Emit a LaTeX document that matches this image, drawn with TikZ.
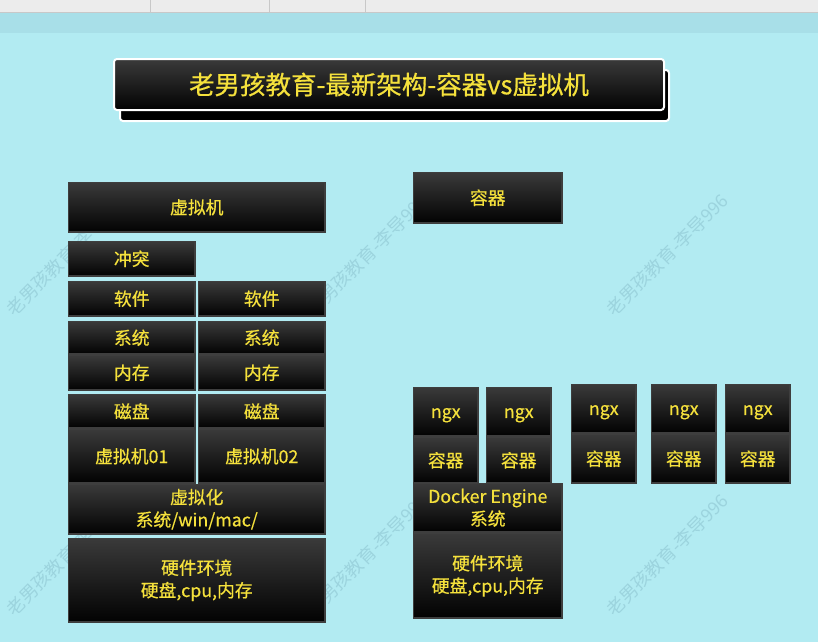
\documentclass[tikz,border=0pt]{standalone}
\usepackage{fontspec}
\setmainfont{Noto Sans CJK SC}
\newfontfamily\boxfont{Noto Sans CJK SC}[FakeBold=0.6]
\definecolor{bg}{RGB}{178,235,242}
\definecolor{band}{RGB}{168,223,232}
\definecolor{strip}{RGB}{236,236,236}
\definecolor{stripline}{RGB}{200,200,200}
\definecolor{boxtop}{RGB}{58,58,58}
\definecolor{boxbot}{RGB}{2,2,2}
\definecolor{boxline}{RGB}{62,62,62}
\definecolor{ylw}{RGB}{245,225,60}
\definecolor{wmc}{RGB}{156,212,222}
\newcommand\blkbox[6]{\node[blk, anchor=north west, minimum width={#4pt-#2pt-1.5pt}, minimum height={#5pt-#3pt-1.5pt}] (#1) at (#2+0.75,#3+0.75) {#6};}
\newcommand\ngxtext{\raisebox{-3.5pt}[\height][\depth]{ngx}}
\begin{document}
\begin{tikzpicture}[x=1pt,y=-1pt,
  blk/.style={draw=boxline, line width=1.5pt, top color=boxtop, bottom color=boxbot,
    text=ylw, inner sep=0pt, align=center, font=\boxfont\fontsize{17.8}{22.5}\selectfont},
  wm/.style={text=wmc, font=\fontsize{18}{18}\selectfont, rotate=45, inner sep=0pt},
  titlebox/.style={draw=white, line width=2pt, rounded corners=3pt}]
\useasboundingbox (0,0) rectangle (818,642);
% background
\fill[bg] (0,0) rectangle (818,642);
\fill[band] (0,13) rectangle (818,33);
\fill[strip] (0,0) rectangle (818,12);
\draw[stripline, line width=1.5pt] (0,12.5) -- (818,12.5);
\foreach \xx in {150,269,365} \draw[stripline, line width=0.6pt] (\xx,0) -- (\xx,12);
% watermarks
\node[wm] (wm1) at (67,255) {老男孩教育-李导996};
\node[wm] (wm2) at (367,255) {老男孩教育-李导996};
\node[wm] (wm3) at (667,255) {老男孩教育-李导996};
\node[wm] (wm4) at (67,555) {老男孩教育-李导996};
\node[wm] (wm5) at (367,555) {老男孩教育-李导996};
\node[wm] (wm6) at (667,555) {老男孩教育-李导996};
% title
\draw[titlebox, fill=black] (120,70) rectangle (669,121);
\draw[titlebox, top color=boxtop, bottom color=boxbot] (114,59) rectangle (664,110);
\node[text=ylw, font=\boxfont\fontsize{25.5}{25.5}\selectfont, inner sep=0pt] (title) at (389,84.5) {老男孩教育-最新架构-容器vs虚拟机};
% left: virtual machines
\blkbox{vm}{67}{181}{325}{232}{虚拟机}
\blkbox{ct}{67}{240}{195}{276}{冲突}
\blkbox{swA}{67}{280}{195}{316}{软件}
\blkbox{swB}{197}{280}{325}{316}{软件}
\blkbox{sysA}{67}{320}{195}{354}{系统}
\blkbox{sysB}{197}{320}{325}{354}{系统}
\blkbox{memA}{67}{354}{195}{390}{内存}
\blkbox{memB}{197}{354}{325}{390}{内存}
\blkbox{dkA}{67}{393}{195}{428}{磁盘}
\blkbox{dkB}{197}{393}{325}{428}{磁盘}
\blkbox{vmA}{67}{428}{195}{483}{虚拟机01}
\blkbox{vmB}{197}{428}{325}{483}{虚拟机02}
\blkbox{virt}{67}{483}{325}{534}{虚拟化\\系统/win/mac/}
\blkbox{hwL}{67}{537}{325}{622}{硬件环境\\硬盘,cpu,内存}
% right: containers
\blkbox{ctr}{412}{171}{562}{223}{容器}
\blkbox{ngA}{412}{386}{478}{436}{\ngxtext}
\blkbox{cA}{412}{436}{478}{483}{容器}
\blkbox{ngB}{485}{386}{551}{436}{\ngxtext}
\blkbox{cB}{485}{436}{551}{483}{容器}
\blkbox{ngC}{570}{383}{636}{433}{\ngxtext}
\blkbox{cC}{570}{433}{636}{483}{容器}
\blkbox{ngD}{650}{383}{716}{433}{\ngxtext}
\blkbox{cD}{650}{433}{716}{483}{容器}
\blkbox{ngE}{724}{383}{790}{433}{\ngxtext}
\blkbox{cE}{724}{433}{790}{483}{容器}
\blkbox{dock}{412}{482}{562}{532}{Docker Engine\\系统}
\blkbox{hwR}{412}{532}{562}{618}{硬件环境\\硬盘,cpu,内存}
\end{tikzpicture}
\end{document}
